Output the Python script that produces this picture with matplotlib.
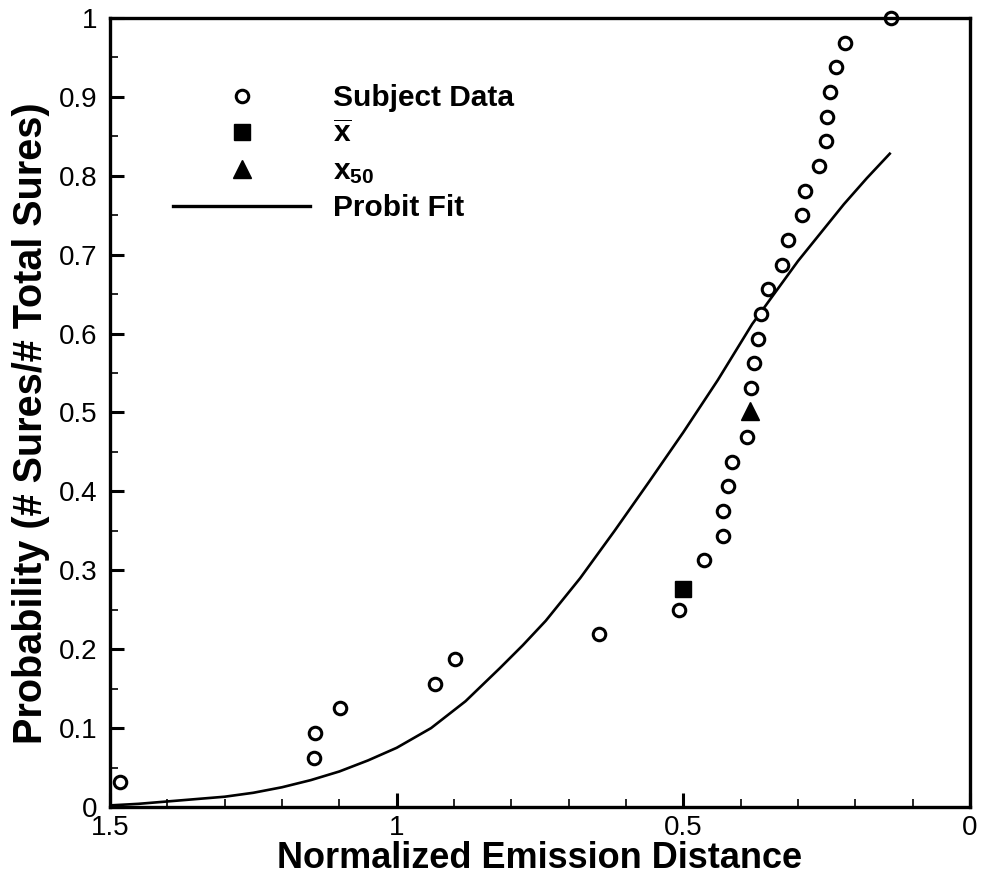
import matplotlib
matplotlib.use("Agg")
import matplotlib.pyplot as plt
from matplotlib.lines import Line2D
from matplotlib.ticker import MultipleLocator

plt.rcParams["font.family"] = ["Liberation Sans", "DejaVu Sans"]
plt.rcParams["mathtext.fontset"] = "custom"
plt.rcParams["mathtext.rm"] = "Liberation Sans:bold"
plt.rcParams["mathtext.it"] = "Liberation Sans:bold"
plt.rcParams["mathtext.bf"] = "Liberation Sans:bold"

# subject data
subj_x = [1.482, 1.145, 1.143, 1.099, 0.933, 0.898, 0.648, 0.508, 0.464, 0.430,
          0.430, 0.422, 0.416, 0.389, 0.382, 0.377, 0.370, 0.365, 0.352, 0.328,
          0.318, 0.293, 0.287, 0.264, 0.251, 0.249, 0.244, 0.233, 0.218, 0.138]
subj_y = [0.03125, 0.0625, 0.09375, 0.125, 0.15625, 0.1875, 0.21875, 0.25, 0.3125, 0.34375,
          0.375, 0.40625, 0.4375, 0.46875, 0.53125, 0.5625, 0.59375, 0.625, 0.65625, 0.6875,
          0.71875, 0.75, 0.78125, 0.8125, 0.84375, 0.875, 0.90625, 0.9375, 0.96875, 1.0]

# mean and median markers
mean_x, mean_y = [0.500], [0.276]
med_x, med_y = [0.383], [0.502]

# probit fit curve
fit_x = [1.50, 1.45, 1.40, 1.35, 1.30, 1.25, 1.20, 1.15, 1.10, 1.05, 1.00, 0.94,
         0.88, 0.82, 0.78, 0.74, 0.68, 0.62, 0.56, 0.50, 0.44, 0.38, 0.34, 0.30,
         0.26, 0.22, 0.18, 0.14]
fit_y = [0.002, 0.004, 0.007, 0.010, 0.013, 0.018, 0.025, 0.034, 0.045, 0.059, 0.075, 0.100,
         0.134, 0.176, 0.205, 0.236, 0.290, 0.350, 0.412, 0.475, 0.541, 0.612, 0.652, 0.692,
         0.728, 0.764, 0.797, 0.828]

fig = plt.figure(figsize=(9.85, 8.83), dpi=100)
ax = fig.add_axes([0.1117, 0.0861, 0.8731, 0.8935])

ax.plot(fit_x, fit_y, color="black", lw=1.9, solid_joinstyle="round")
ax.plot(subj_x, subj_y, ls="none", marker="o", ms=9, mfc="white", mec="black",
        mew=2.2, clip_on=False)
ax.plot(mean_x, mean_y, ls="none", marker="s", ms=11, color="black")
ax.plot(med_x, med_y, ls="none", marker="^", ms=13, color="black")

ax.set_xlim(1.5, 0)
ax.set_ylim(0, 1)
ax.xaxis.set_major_locator(MultipleLocator(0.5))
ax.xaxis.set_minor_locator(MultipleLocator(0.1))
ax.yaxis.set_major_locator(MultipleLocator(0.1))
ax.yaxis.set_minor_locator(MultipleLocator(0.05))
ax.xaxis.set_major_formatter(plt.FuncFormatter(lambda v, p: f"{v:g}"))
ax.yaxis.set_major_formatter(plt.FuncFormatter(lambda v, p: f"{v:g}"))
ax.tick_params(which="both", direction="in", top=False, right=False, labelsize=20)
ax.tick_params(which="major", length=10, width=2.2)
ax.tick_params(which="minor", length=6, width=1.2)
ax.tick_params(axis="y", pad=9)
ax.tick_params(axis="x", pad=6)
for s in ax.spines.values():
    s.set_linewidth(2.4)

ax.set_xlabel("Normalized Emission Distance", fontsize=26, fontweight="bold", labelpad=0)
ax.set_ylabel("Probability (# Sures/# Total Sures)", fontsize=28.5, fontweight="bold")
ax.yaxis.set_label_coords(-0.07, 0.487)

handles = [
    Line2D([], [], ls="none", marker="o", ms=9, mfc="white", mec="black", mew=2.2),
    Line2D([], [], ls="none", marker="s", ms=11, color="black"),
    Line2D([], [], ls="none", marker="^", ms=13, color="black"),
    Line2D([], [], color="black", lw=2.4),
]
labels = ["Subject Data", r"$\overline{x}$", r"$x_{50}$", "Probit Fit"]
ax.legend(handles, labels, loc="upper left", bbox_to_anchor=(0.056, 0.935), frameon=False,
          handlelength=4.6, handletextpad=0.75, labelspacing=0.28, borderpad=0,
          prop={"weight": "bold", "size": 21.5})

fig.savefig("out.png", dpi=100)
